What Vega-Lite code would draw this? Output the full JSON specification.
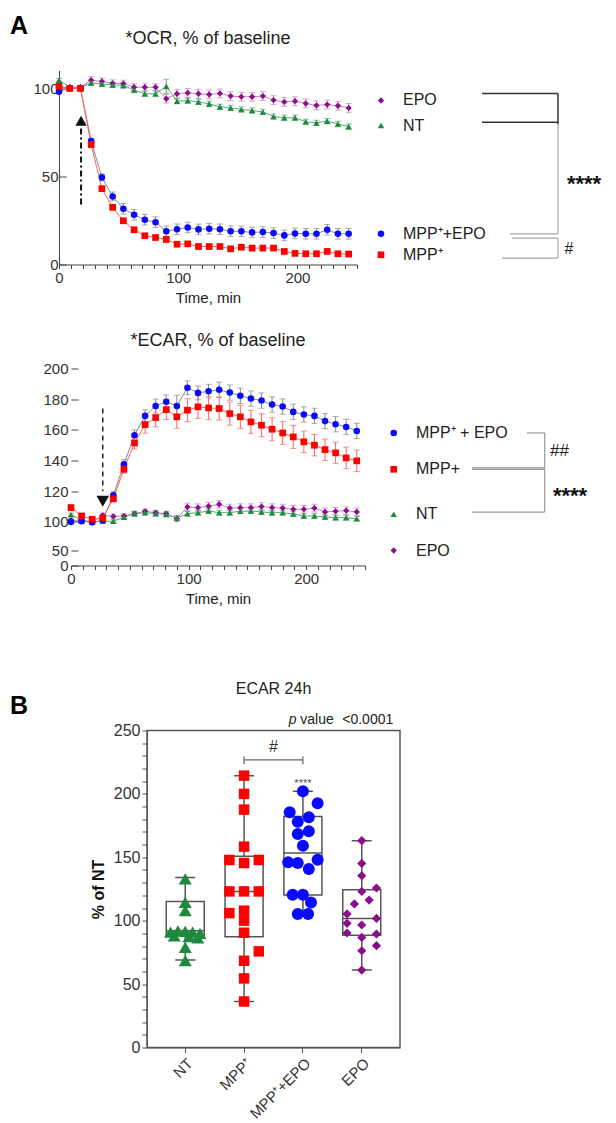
{
"$schema": "https://vega.github.io/schema/vega-lite/v6.json",
"background": "white",
"padding": {"left": 10, "top": 13.5, "right": 0, "bottom": 0},
"config": {
  "font": "Liberation Sans",
  "view": {"stroke": null},
  "axis": {"labelFont": "Liberation Sans", "labelFontSize": 15, "labelColor": "#333", "labelOverlap": false, "titleFont": "Liberation Sans", "titleFontSize": 15, "titleFontWeight": "normal", "titleColor": "#222", "domainColor": "#444", "tickColor": "#444", "grid": false},
  "title": {"font": "Liberation Sans", "fontWeight": "normal", "color": "#222", "baseline": "alphabetic"}
},
"datasets": {
  "ocr": [
    {"t":0,"g":"EPO","v":100.5,"e":1},{"t":9,"g":"EPO","v":100.5,"e":1},{"t":18,"g":"EPO","v":100.5,"e":1},{"t":27,"g":"EPO","v":104.5,"e":2},{"t":36,"g":"EPO","v":103.8,"e":2},{"t":45,"g":"EPO","v":102.7,"e":2},{"t":54,"g":"EPO","v":102.5,"e":2},{"t":63,"g":"EPO","v":100.5,"e":2},{"t":72,"g":"EPO","v":100.5,"e":2},{"t":81,"g":"EPO","v":100.5,"e":2},{"t":90,"g":"EPO","v":94,"e":2.5},{"t":99,"g":"EPO","v":96.8,"e":2.5},{"t":108,"g":"EPO","v":97.3,"e":2.5},{"t":117,"g":"EPO","v":96.8,"e":2.5},{"t":126,"g":"EPO","v":96.4,"e":2.5},{"t":135,"g":"EPO","v":97,"e":2.5},{"t":144,"g":"EPO","v":95.5,"e":2.5},{"t":153,"g":"EPO","v":95.1,"e":2.5},{"t":162,"g":"EPO","v":95.1,"e":2.5},{"t":171,"g":"EPO","v":95.5,"e":2.5},{"t":180,"g":"EPO","v":93.2,"e":2.5},{"t":189,"g":"EPO","v":92.2,"e":2.5},{"t":198,"g":"EPO","v":92.6,"e":2.5},{"t":207,"g":"EPO","v":91.3,"e":2.5},{"t":216,"g":"EPO","v":90.2,"e":2.5},{"t":225,"g":"EPO","v":90.7,"e":2.5},{"t":234,"g":"EPO","v":90,"e":2.5},{"t":243,"g":"EPO","v":88.8,"e":2.5},
    {"t":0,"g":"NT","v":104.5,"e":1},{"t":9,"g":"NT","v":100.5,"e":1},{"t":18,"g":"NT","v":100.5,"e":1},{"t":27,"g":"NT","v":103,"e":1.5},{"t":36,"g":"NT","v":102.4,"e":1.5},{"t":45,"g":"NT","v":101.8,"e":1.5},{"t":54,"g":"NT","v":101.5,"e":1.5},{"t":63,"g":"NT","v":98.9,"e":1.5},{"t":72,"g":"NT","v":96.8,"e":1.5},{"t":81,"g":"NT","v":96.8,"e":1.5},{"t":90,"g":"NT","v":101,"e":4},{"t":99,"g":"NT","v":92.6,"e":1.5},{"t":108,"g":"NT","v":92.9,"e":1.5},{"t":117,"g":"NT","v":92.2,"e":1.5},{"t":126,"g":"NT","v":91.1,"e":1.5},{"t":135,"g":"NT","v":89.4,"e":1.5},{"t":144,"g":"NT","v":88.8,"e":1.5},{"t":153,"g":"NT","v":87.9,"e":1.5},{"t":162,"g":"NT","v":87.3,"e":1.5},{"t":171,"g":"NT","v":86.5,"e":1.5},{"t":180,"g":"NT","v":83.9,"e":1.5},{"t":189,"g":"NT","v":83.2,"e":1.5},{"t":198,"g":"NT","v":83.2,"e":1.5},{"t":207,"g":"NT","v":80.9,"e":1.5},{"t":216,"g":"NT","v":80.3,"e":1.5},{"t":225,"g":"NT","v":81.3,"e":1.5},{"t":234,"g":"NT","v":79.7,"e":1.5},{"t":243,"g":"NT","v":78.2,"e":1.5},
    {"t":0,"g":"MPP⁺+EPO","v":98,"e":1},{"t":9,"g":"MPP⁺+EPO","v":100,"e":1},{"t":18,"g":"MPP⁺+EPO","v":100,"e":1},{"t":27,"g":"MPP⁺+EPO","v":70,"e":1.5},{"t":36,"g":"MPP⁺+EPO","v":49.4,"e":2},{"t":45,"g":"MPP⁺+EPO","v":38.6,"e":2.5},{"t":54,"g":"MPP⁺+EPO","v":31.6,"e":3},{"t":63,"g":"MPP⁺+EPO","v":28.2,"e":3},{"t":72,"g":"MPP⁺+EPO","v":25.4,"e":3},{"t":81,"g":"MPP⁺+EPO","v":24,"e":3},{"t":90,"g":"MPP⁺+EPO","v":18.8,"e":3},{"t":99,"g":"MPP⁺+EPO","v":20,"e":3},{"t":108,"g":"MPP⁺+EPO","v":21,"e":3},{"t":117,"g":"MPP⁺+EPO","v":19.9,"e":3},{"t":126,"g":"MPP⁺+EPO","v":20.3,"e":3},{"t":135,"g":"MPP⁺+EPO","v":20,"e":3},{"t":144,"g":"MPP⁺+EPO","v":18.9,"e":3},{"t":153,"g":"MPP⁺+EPO","v":18.8,"e":3},{"t":162,"g":"MPP⁺+EPO","v":18.2,"e":3},{"t":171,"g":"MPP⁺+EPO","v":18.4,"e":3},{"t":180,"g":"MPP⁺+EPO","v":17.8,"e":3},{"t":189,"g":"MPP⁺+EPO","v":16.5,"e":3},{"t":198,"g":"MPP⁺+EPO","v":17.6,"e":3},{"t":207,"g":"MPP⁺+EPO","v":17.4,"e":3},{"t":216,"g":"MPP⁺+EPO","v":17.4,"e":3},{"t":225,"g":"MPP⁺+EPO","v":19.7,"e":3},{"t":234,"g":"MPP⁺+EPO","v":17.4,"e":3},{"t":243,"g":"MPP⁺+EPO","v":17.4,"e":3},
    {"t":0,"g":"MPP⁺","v":101,"e":1},{"t":9,"g":"MPP⁺","v":99.8,"e":1},{"t":18,"g":"MPP⁺","v":99.8,"e":1},{"t":27,"g":"MPP⁺","v":68,"e":1.2},{"t":36,"g":"MPP⁺","v":43,"e":1.2},{"t":45,"g":"MPP⁺","v":32.4,"e":1.2},{"t":54,"g":"MPP⁺","v":24.8,"e":1.2},{"t":63,"g":"MPP⁺","v":19.7,"e":1.2},{"t":72,"g":"MPP⁺","v":16.3,"e":1.2},{"t":81,"g":"MPP⁺","v":15.3,"e":1.2},{"t":90,"g":"MPP⁺","v":14.2,"e":1.2},{"t":99,"g":"MPP⁺","v":11.5,"e":1.2},{"t":108,"g":"MPP⁺","v":11.7,"e":1.2},{"t":117,"g":"MPP⁺","v":10.2,"e":1.2},{"t":126,"g":"MPP⁺","v":10.2,"e":1},{"t":135,"g":"MPP⁺","v":10.2,"e":1},{"t":144,"g":"MPP⁺","v":8.9,"e":1},{"t":153,"g":"MPP⁺","v":9.8,"e":1},{"t":162,"g":"MPP⁺","v":9.3,"e":1},{"t":171,"g":"MPP⁺","v":9.3,"e":1},{"t":180,"g":"MPP⁺","v":9.3,"e":1},{"t":189,"g":"MPP⁺","v":7.4,"e":1},{"t":198,"g":"MPP⁺","v":6.3,"e":1},{"t":207,"g":"MPP⁺","v":6.1,"e":1},{"t":216,"g":"MPP⁺","v":6.1,"e":1},{"t":225,"g":"MPP⁺","v":7.4,"e":1},{"t":234,"g":"MPP⁺","v":6.1,"e":1},{"t":243,"g":"MPP⁺","v":5.9,"e":1}
  ],
  "ecar": [
    {"t":0,"g":"EPO","v":101,"e":1},{"t":9,"g":"EPO","v":101,"e":1},{"t":18,"g":"EPO","v":100,"e":1},{"t":27,"g":"EPO","v":104.3,"e":1.5},{"t":36,"g":"EPO","v":103.6,"e":1.5},{"t":45,"g":"EPO","v":103.8,"e":1.5},{"t":54,"g":"EPO","v":105.4,"e":1.5},{"t":63,"g":"EPO","v":106.9,"e":1.5},{"t":72,"g":"EPO","v":106,"e":1.5},{"t":81,"g":"EPO","v":105.4,"e":1.5},{"t":90,"g":"EPO","v":102.1,"e":2},{"t":99,"g":"EPO","v":109.7,"e":2.5},{"t":108,"g":"EPO","v":109.3,"e":2.5},{"t":117,"g":"EPO","v":110.2,"e":2.5},{"t":126,"g":"EPO","v":111.5,"e":2.5},{"t":135,"g":"EPO","v":109,"e":2.5},{"t":144,"g":"EPO","v":109.3,"e":2.5},{"t":153,"g":"EPO","v":109.3,"e":2.5},{"t":162,"g":"EPO","v":110,"e":2.5},{"t":171,"g":"EPO","v":109.3,"e":2.5},{"t":180,"g":"EPO","v":109,"e":2.5},{"t":189,"g":"EPO","v":108.2,"e":2.5},{"t":198,"g":"EPO","v":108.2,"e":2.5},{"t":207,"g":"EPO","v":109,"e":2.5},{"t":216,"g":"EPO","v":106.5,"e":2.5},{"t":225,"g":"EPO","v":106.9,"e":2.5},{"t":234,"g":"EPO","v":107.3,"e":2.5},{"t":243,"g":"EPO","v":106.5,"e":2.5},
    {"t":0,"g":"NT","v":104.7,"e":1},{"t":9,"g":"NT","v":101,"e":1},{"t":18,"g":"NT","v":100,"e":1},{"t":27,"g":"NT","v":100.4,"e":1},{"t":36,"g":"NT","v":100.4,"e":1},{"t":45,"g":"NT","v":103,"e":1.5},{"t":54,"g":"NT","v":105.4,"e":1.5},{"t":63,"g":"NT","v":106,"e":1.5},{"t":72,"g":"NT","v":105.4,"e":1.5},{"t":81,"g":"NT","v":104.9,"e":1.5},{"t":90,"g":"NT","v":102.5,"e":1.5},{"t":99,"g":"NT","v":105.4,"e":1.5},{"t":108,"g":"NT","v":106,"e":1.5},{"t":117,"g":"NT","v":107.1,"e":1.5},{"t":126,"g":"NT","v":106,"e":1.5},{"t":135,"g":"NT","v":106,"e":1.5},{"t":144,"g":"NT","v":107,"e":1.5},{"t":153,"g":"NT","v":107.1,"e":1.5},{"t":162,"g":"NT","v":106.5,"e":1.5},{"t":171,"g":"NT","v":106,"e":1.5},{"t":180,"g":"NT","v":106,"e":1.5},{"t":189,"g":"NT","v":105.2,"e":1.5},{"t":198,"g":"NT","v":103.9,"e":1.5},{"t":207,"g":"NT","v":103.9,"e":1.5},{"t":216,"g":"NT","v":103.2,"e":1.5},{"t":225,"g":"NT","v":102.8,"e":1.5},{"t":234,"g":"NT","v":102.8,"e":1.5},{"t":243,"g":"NT","v":102.1,"e":1.5},
    {"t":0,"g":"MPP⁺+EPO","v":100,"e":1},{"t":9,"g":"MPP⁺+EPO","v":100.4,"e":1},{"t":18,"g":"MPP⁺+EPO","v":99.7,"e":1},{"t":27,"g":"MPP⁺+EPO","v":101,"e":1.5},{"t":36,"g":"MPP⁺+EPO","v":117.4,"e":2.5},{"t":45,"g":"MPP⁺+EPO","v":137.6,"e":3},{"t":54,"g":"MPP⁺+EPO","v":156.5,"e":3.5},{"t":63,"g":"MPP⁺+EPO","v":169.1,"e":4},{"t":72,"g":"MPP⁺+EPO","v":175.6,"e":4.5},{"t":81,"g":"MPP⁺+EPO","v":178.3,"e":4.5},{"t":90,"g":"MPP⁺+EPO","v":175.6,"e":7},{"t":99,"g":"MPP⁺+EPO","v":187.4,"e":4.5},{"t":108,"g":"MPP⁺+EPO","v":184.1,"e":4.5},{"t":117,"g":"MPP⁺+EPO","v":185.2,"e":4.5},{"t":126,"g":"MPP⁺+EPO","v":186.1,"e":5},{"t":135,"g":"MPP⁺+EPO","v":184.3,"e":5},{"t":144,"g":"MPP⁺+EPO","v":182.2,"e":5},{"t":153,"g":"MPP⁺+EPO","v":180.4,"e":5},{"t":162,"g":"MPP⁺+EPO","v":179.1,"e":5},{"t":171,"g":"MPP⁺+EPO","v":176.5,"e":5},{"t":180,"g":"MPP⁺+EPO","v":175.2,"e":5},{"t":189,"g":"MPP⁺+EPO","v":171.7,"e":5},{"t":198,"g":"MPP⁺+EPO","v":170,"e":5},{"t":207,"g":"MPP⁺+EPO","v":169.1,"e":5},{"t":216,"g":"MPP⁺+EPO","v":165.7,"e":5},{"t":225,"g":"MPP⁺+EPO","v":163.7,"e":5},{"t":234,"g":"MPP⁺+EPO","v":161.9,"e":5},{"t":243,"g":"MPP⁺+EPO","v":159.3,"e":5},
    {"t":0,"g":"MPP⁺","v":109.3,"e":2},{"t":9,"g":"MPP⁺","v":103.9,"e":1.5},{"t":18,"g":"MPP⁺","v":101.7,"e":1.5},{"t":27,"g":"MPP⁺","v":102.5,"e":1.5},{"t":36,"g":"MPP⁺","v":115.1,"e":2},{"t":45,"g":"MPP⁺","v":134.3,"e":2.5},{"t":54,"g":"MPP⁺","v":151.5,"e":4},{"t":63,"g":"MPP⁺","v":163.4,"e":5.5},{"t":72,"g":"MPP⁺","v":168,"e":6},{"t":81,"g":"MPP⁺","v":173.2,"e":6.5},{"t":90,"g":"MPP⁺","v":168.5,"e":7.5},{"t":99,"g":"MPP⁺","v":172.8,"e":7.5},{"t":108,"g":"MPP⁺","v":175,"e":7.5},{"t":117,"g":"MPP⁺","v":174.3,"e":7.5},{"t":126,"g":"MPP⁺","v":173.9,"e":7.5},{"t":135,"g":"MPP⁺","v":170.6,"e":7.5},{"t":144,"g":"MPP⁺","v":168.5,"e":7.5},{"t":153,"g":"MPP⁺","v":165.2,"e":7.5},{"t":162,"g":"MPP⁺","v":163,"e":7.5},{"t":171,"g":"MPP⁺","v":160.4,"e":7.5},{"t":180,"g":"MPP⁺","v":158,"e":7.5},{"t":189,"g":"MPP⁺","v":155.4,"e":7.5},{"t":198,"g":"MPP⁺","v":152.2,"e":7},{"t":207,"g":"MPP⁺","v":150,"e":7},{"t":216,"g":"MPP⁺","v":147.1,"e":7},{"t":225,"g":"MPP⁺","v":145,"e":7},{"t":234,"g":"MPP⁺","v":141.7,"e":7},{"t":243,"g":"MPP⁺","v":139.8,"e":7}
  ],
  "arrO": [{"t":18.5,"a":34,"b":79,"h":81.5}],
  "arrE": [{"t":27,"a":174,"b":120,"h":113.5}],
  "pts": [
    {"g":"NT","v":133,"c":0},{"g":"NT","v":114.5,"c":0},{"g":"NT","v":108,"c":0},{"g":"NT","v":91,"c":-2},{"g":"NT","v":92,"c":-1},{"g":"NT","v":91.5,"c":0},{"g":"NT","v":91,"c":1},{"g":"NT","v":90,"c":2},{"g":"NT","v":88,"c":-1.5},{"g":"NT","v":87.5,"c":0.5},{"g":"NT","v":86.5,"c":1.7},{"g":"NT","v":79,"c":0},{"g":"NT","v":68.5,"c":0},
    {"g":"MPP⁺","v":214.4,"c":0},{"g":"MPP⁺","v":200,"c":0},{"g":"MPP⁺","v":187.6,"c":0},{"g":"MPP⁺","v":158.4,"c":0},{"g":"MPP⁺","v":147.9,"c":-2},{"g":"MPP⁺","v":145.5,"c":0},{"g":"MPP⁺","v":147.9,"c":2},{"g":"MPP⁺","v":123.1,"c":-2},{"g":"MPP⁺","v":123.1,"c":0},{"g":"MPP⁺","v":123.1,"c":2},{"g":"MPP⁺","v":106,"c":-2},{"g":"MPP⁺","v":107.9,"c":0},{"g":"MPP⁺","v":100,"c":0},{"g":"MPP⁺","v":90.5,"c":0},{"g":"MPP⁺","v":75.8,"c":2},{"g":"MPP⁺","v":68.4,"c":0},{"g":"MPP⁺","v":54.5,"c":0},{"g":"MPP⁺","v":36.3,"c":0},
    {"g":"MPP⁺+EPO","v":202,"c":0},{"g":"MPP⁺+EPO","v":192.6,"c":2},{"g":"MPP⁺+EPO","v":185.5,"c":-1.8},{"g":"MPP⁺+EPO","v":181.5,"c":0.8},{"g":"MPP⁺+EPO","v":178.1,"c":-0.7},{"g":"MPP⁺+EPO","v":170.5,"c":0.8},{"g":"MPP⁺+EPO","v":168.4,"c":-0.7},{"g":"MPP⁺+EPO","v":159.2,"c":0},{"g":"MPP⁺+EPO","v":148.1,"c":2},{"g":"MPP⁺+EPO","v":146,"c":-2},{"g":"MPP⁺+EPO","v":145.5,"c":-0.7},{"g":"MPP⁺+EPO","v":140.8,"c":0.8},{"g":"MPP⁺+EPO","v":120.5,"c":-1.4},{"g":"MPP⁺+EPO","v":120.5,"c":0},{"g":"MPP⁺+EPO","v":114.4,"c":1.1},{"g":"MPP⁺+EPO","v":105.3,"c":-0.7},{"g":"MPP⁺+EPO","v":105.3,"c":0.7},
    {"g":"EPO","v":163.1,"c":0},{"g":"EPO","v":145.2,"c":0},{"g":"EPO","v":135.5,"c":0},{"g":"EPO","v":125.8,"c":2},{"g":"EPO","v":123.1,"c":0},{"g":"EPO","v":116.3,"c":1},{"g":"EPO","v":113.2,"c":-1},{"g":"EPO","v":105.3,"c":-2},{"g":"EPO","v":101.8,"c":2},{"g":"EPO","v":97.9,"c":-2},{"g":"EPO","v":96.6,"c":0},{"g":"EPO","v":90.3,"c":-2},{"g":"EPO","v":89.5,"c":2},{"g":"EPO","v":86.8,"c":0},{"g":"EPO","v":80.3,"c":2},{"g":"EPO","v":76.3,"c":0},{"g":"EPO","v":61.1,"c":0}
  ],
  "stats": [
    {"g":"NT","lo":69,"q1":88.2,"md":92.1,"q3":115.2,"hi":134},
    {"g":"MPP⁺","lo":36.3,"q1":87.4,"md":123.1,"q3":150.8,"hi":214.4},
    {"g":"MPP⁺+EPO","lo":105.3,"q1":120.3,"md":153.4,"q3":182.1,"hi":202},
    {"g":"EPO","lo":61.1,"q1":88.5,"md":101.8,"q3":124.5,"hi":163.1}
  ],
  "ocrLeg": [
    {"g":"EPO","lab":"EPO","y":93},{"g":"NT","lab":"NT","y":78.8},{"g":"MPP⁺+EPO","lab":"MPP⁺+EPO","y":17.4},{"g":"MPP⁺","lab":"MPP⁺","y":5.5}
  ],
  "ecarLeg": [
    {"g":"MPP⁺+EPO","lab":"MPP⁺ + EPO","y":158},{"g":"MPP⁺","lab":"MPP+","y":134.3},{"g":"NT","lab":"NT","y":105},{"g":"EPO","lab":"EPO","y":50}
  ],
  "ocrBrDark": [
    {"x1":124,"x2":200,"y1":97,"y2":97},{"x1":124,"x2":200,"y1":80.7,"y2":80.7},{"x1":200,"x2":200,"y1":97,"y2":79.5}
  ],
  "ocrBrGray": [
    {"x1":200,"x2":200,"y1":79.5,"y2":17.4},{"x1":152,"x2":200,"y1":17.4,"y2":17.4},{"x1":154,"x2":200,"y1":14.9,"y2":14.9},{"x1":200,"x2":200,"y1":14.9,"y2":3.6},{"x1":144,"x2":200,"y1":3.6,"y2":3.6}
  ],
  "ecarBr": [
    {"x1":161,"x2":178.7,"y1":158,"y2":158},{"x1":178.7,"x2":178.7,"y1":158,"y2":134.8},{"x1":106,"x2":178.7,"y1":135.2,"y2":135.2},{"x1":106,"x2":178.7,"y1":134.3,"y2":134.3},{"x1":178.7,"x2":178.7,"y1":134.3,"y2":106.4},{"x1":106,"x2":178.7,"y1":106.4,"y2":106.4}
  ]
},
"spacing": 0,
"vconcat": [
  {"spacing": 0, "hconcat": [
    {"width": 22, "height": 10, "data": {"values": [{}]}, "mark": {"type": "text", "text": " "},
     "title": {"text": "A", "anchor": "start", "frame": "group", "fontSize": 25, "fontWeight": "bold", "color": "#000", "offset": 30.4}},
    {"width": 298, "height": 194,
     "title": {"text": "*OCR, % of baseline", "fontSize": 18, "frame": "group", "anchor": "middle", "offset": 22.4},
     "data": {"name": "ocr"},
     "encoding": {
       "x": {"field": "t", "type": "quantitative", "scale": {"domain": [0, 250], "nice": false},
             "axis": {"values": [0,10,20,30,40,50,60,70,80,90,100,110,120,130,140,150,160,170,180,190,200,210,220,230,240,250], "labelExpr": "datum.value % 100 === 0 ? datum.label : ''", "labelFlush": false, "tickSize": 4, "labelPadding": 2, "title": "Time, min", "titlePadding": 5}},
       "y": {"field": "v", "type": "quantitative", "scale": {"domain": [0, 110], "nice": false, "zero": false},
             "axis": {"values": [0, 50, 100], "tickSize": -7, "labelPadding": 8, "title": null}}
     },
     "layer": [
       {"mark": {"type": "line", "strokeWidth": 1},
        "encoding": {"color": {"field": "g", "type": "nominal", "scale": {"domain": ["EPO","NT","MPP⁺+EPO","MPP⁺"], "range": ["#c77fc7","#58a872","#8a8a8a","#ff6060"]}, "legend": null}}},
       {"mark": {"type": "errorbar", "ticks": true, "size": 6, "thickness": 1},
        "encoding": {"yError": {"field": "e"}, "color": {"field": "g", "type": "nominal", "scale": {"domain": ["EPO","NT","MPP⁺+EPO","MPP⁺"], "range": ["#c77fc7","#58a872","#8a8a8a","#ff6060"]}, "legend": null}}},
       {"mark": {"type": "point", "filled": true, "opacity": 1, "strokeWidth": 0},
        "encoding": {
          "fill": {"field": "g", "type": "nominal", "scale": {"domain": ["EPO","NT","MPP⁺+EPO","MPP⁺"], "range": ["#8b0f8b","#1d8a3e","#0a0aff","#ff0000"]}, "legend": null},
          "shape": {"field": "g", "type": "nominal", "scale": {"domain": ["EPO","NT","MPP⁺+EPO","MPP⁺"], "range": ["diamond","triangle-up","circle","square"]}, "legend": null},
          "size": {"field": "g", "type": "nominal", "scale": {"domain": ["EPO","NT","MPP⁺+EPO","MPP⁺"], "range": [40,45,64,60]}, "legend": null}}},
       {"data": {"name": "arrO"}, "mark": {"type": "rule", "strokeDash": [6,3,2,3], "strokeWidth": 2, "stroke": "#111", "opacity": 1},
        "encoding": {"x": {"field": "t", "type": "quantitative"},
                     "y": {"field": "a", "type": "quantitative"},
                     "y2": {"field": "b"}}},
       {"data": {"name": "arrO"}, "mark": {"type": "point", "shape": "triangle-up", "filled": true, "fill": "#111", "size": 130, "opacity": 1},
        "encoding": {"x": {"field": "t", "type": "quantitative"},
                     "y": {"field": "h", "type": "quantitative"}}}
     ]},
    {"width": 250, "height": 260.3,
     "layer": [
       {"data": {"name": "ocrBrDark"}, "mark": {"type": "rule", "color": "#333", "strokeWidth": 1.5},
        "encoding": {"x": {"field": "x1", "type": "quantitative", "scale": {"domain": [0, 250], "range": [0, 250]}, "axis": null}, "x2": {"field": "x2"},
                     "y": {"field": "y1", "type": "quantitative", "scale": {"domain": [0, 110], "range": [194, 0], "nice": false, "zero": false}, "axis": null}, "y2": {"field": "y2"}}},
       {"data": {"name": "ocrBrGray"}, "mark": {"type": "rule", "color": "#a8a8a8", "strokeWidth": 1.2},
        "encoding": {"x": {"field": "x1", "type": "quantitative", "scale": {"domain": [0, 250], "range": [0, 250]}, "axis": null}, "x2": {"field": "x2"},
                     "y": {"field": "y1", "type": "quantitative", "scale": {"domain": [0, 110], "range": [194, 0], "nice": false, "zero": false}, "axis": null}, "y2": {"field": "y2"}}},
       {"data": {"name": "ocrLeg"}, "mark": {"type": "point", "filled": true, "opacity": 1, "strokeWidth": 0},
        "encoding": {"x": {"datum": 23, "type": "quantitative", "scale": {"domain": [0, 250], "range": [0, 250]}, "axis": null},
                     "y": {"field": "y", "type": "quantitative", "scale": {"domain": [0, 110], "range": [194, 0], "nice": false, "zero": false}, "axis": null},
                     "fill": {"field": "g", "type": "nominal", "scale": {"domain": ["EPO","NT","MPP⁺+EPO","MPP⁺"], "range": ["#8b0f8b","#1d8a3e","#0a0aff","#ff0000"]}, "legend": null},
                     "shape": {"field": "g", "type": "nominal", "scale": {"domain": ["EPO","NT","MPP⁺+EPO","MPP⁺"], "range": ["diamond","triangle-up","circle","square"]}, "legend": null},
                     "size": {"field": "g", "type": "nominal", "scale": {"domain": ["EPO","NT","MPP⁺+EPO","MPP⁺"], "range": [36,36,49,49]}, "legend": null}}},
       {"data": {"name": "ocrLeg"}, "mark": {"type": "text", "align": "left", "baseline": "middle", "fontSize": 16, "color": "#222"},
        "encoding": {"x": {"datum": 45, "type": "quantitative", "scale": {"domain": [0, 250], "range": [0, 250]}, "axis": null},
                     "y": {"field": "y", "type": "quantitative", "scale": {"domain": [0, 110], "range": [194, 0], "nice": false, "zero": false}, "axis": null},
                     "text": {"field": "lab"}}},
       {"data": {"values": [{"s": "****"}]}, "mark": {"type": "text", "align": "center", "baseline": "alphabetic", "fontSize": 22, "fontWeight": "bold", "color": "#111"},
        "encoding": {"x": {"datum": 226, "type": "quantitative", "scale": {"domain": [0, 250], "range": [0, 250]}, "axis": null},
                     "y": {"datum": 41.8, "type": "quantitative", "scale": {"domain": [0, 110], "range": [194, 0], "nice": false, "zero": false}, "axis": null},
                     "text": {"field": "s"}}},
       {"data": {"values": [{"s": "#"}]}, "mark": {"type": "text", "align": "center", "baseline": "alphabetic", "fontSize": 16, "color": "#222"},
        "encoding": {"x": {"datum": 211, "type": "quantitative", "scale": {"domain": [0, 250], "range": [0, 250]}, "axis": null},
                     "y": {"datum": 5.8, "type": "quantitative", "scale": {"domain": [0, 110], "range": [194, 0], "nice": false, "zero": false}, "axis": null},
                     "text": {"field": "s"}}}
     ]}
  ]},
  {"spacing": 0, "hconcat": [
    {"width": 32, "height": 10, "data": {"values": [{}]}, "mark": {"type": "text", "text": " "}},
    {"width": 294, "height": 197,
     "title": {"text": "*ECAR, % of baseline", "fontSize": 18, "frame": "group", "anchor": "middle", "offset": 11.4},
     "data": {"name": "ecar"},
     "encoding": {
       "x": {"field": "t", "type": "quantitative", "scale": {"domain": [0, 250], "nice": false},
             "axis": {"values": [0,10,20,30,40,50,60,70,80,90,100,110,120,130,140,150,160,170,180,190,200,210,220,230,240,250], "labelExpr": "datum.value % 100 === 0 ? datum.label : ''", "labelFlush": false, "tickSize": 4, "labelPadding": 2, "title": "Time, min", "titlePadding": 5}},
       "y": {"field": "v", "type": "quantitative", "scale": {"domain": [0, 90, 97, 200], "range": [197, 170, 158, 0], "nice": false, "zero": false},
             "axis": {"values": [0, 50, 100, 120, 140, 160, 180, 200], "domain": false, "tickSize": -7, "labelPadding": 10, "title": null}}
     },
     "layer": [
       {"data": {"values": [{}]}, "mark": {"type": "rule", "color": "#444", "strokeWidth": 1},
        "encoding": {"x": {"datum": 0, "type": "quantitative", "scale": {"domain": [0, 250], "nice": false}},
                     "y": {"datum": 0, "type": "quantitative", "scale": {"domain": [0, 90, 97, 200], "range": [197, 170, 158, 0], "nice": false, "zero": false}},
                     "y2": {"datum": 90}}},
       {"data": {"values": [{}]}, "mark": {"type": "rule", "color": "#444", "strokeWidth": 1},
        "encoding": {"x": {"datum": 0, "type": "quantitative", "scale": {"domain": [0, 250], "nice": false}},
                     "y": {"datum": 97, "type": "quantitative", "scale": {"domain": [0, 90, 97, 200], "range": [197, 170, 158, 0], "nice": false, "zero": false}},
                     "y2": {"datum": 200}}},
       {"mark": {"type": "line", "strokeWidth": 1},
        "encoding": {"color": {"field": "g", "type": "nominal", "scale": {"domain": ["EPO","NT","MPP⁺+EPO","MPP⁺"], "range": ["#c77fc7","#58a872","#8a8a8a","#ff6060"]}, "legend": null}}},
       {"mark": {"type": "errorbar", "ticks": true, "size": 6, "thickness": 1},
        "encoding": {"yError": {"field": "e"}, "color": {"field": "g", "type": "nominal", "scale": {"domain": ["EPO","NT","MPP⁺+EPO","MPP⁺"], "range": ["#c77fc7","#58a872","#8a8a8a","#ff6060"]}, "legend": null}}},
       {"mark": {"type": "point", "filled": true, "opacity": 1, "strokeWidth": 0},
        "encoding": {
          "fill": {"field": "g", "type": "nominal", "scale": {"domain": ["EPO","NT","MPP⁺+EPO","MPP⁺"], "range": ["#8b0f8b","#1d8a3e","#0a0aff","#ff0000"]}, "legend": null},
          "shape": {"field": "g", "type": "nominal", "scale": {"domain": ["EPO","NT","MPP⁺+EPO","MPP⁺"], "range": ["diamond","triangle-up","circle","square"]}, "legend": null},
          "size": {"field": "g", "type": "nominal", "scale": {"domain": ["EPO","NT","MPP⁺+EPO","MPP⁺"], "range": [40,45,64,60]}, "legend": null}}},
       {"data": {"name": "arrE"}, "mark": {"type": "rule", "strokeDash": [5,4], "strokeWidth": 1.5, "stroke": "#222", "opacity": 1},
        "encoding": {"x": {"field": "t", "type": "quantitative"},
                     "y": {"field": "a", "type": "quantitative"},
                     "y2": {"field": "b"}}},
       {"data": {"name": "arrE"}, "mark": {"type": "point", "shape": "triangle-down", "filled": true, "fill": "#111", "size": 160, "opacity": 1},
        "encoding": {"x": {"field": "t", "type": "quantitative"},
                     "y": {"field": "h", "type": "quantitative"}}}
     ]},
    {"width": 245, "height": 311,
     "layer": [
       {"data": {"name": "ecarBr"}, "mark": {"type": "rule", "color": "#999", "strokeWidth": 1.2},
        "encoding": {"x": {"field": "x1", "type": "quantitative", "scale": {"domain": [0, 245], "range": [0, 245]}, "axis": null}, "x2": {"field": "x2"},
                     "y": {"field": "y1", "type": "quantitative", "scale": {"domain": [0, 90, 97, 200], "range": [197, 170, 158, 0], "nice": false, "zero": false}, "axis": null}, "y2": {"field": "y2"}}},
       {"data": {"name": "ecarLeg"}, "mark": {"type": "point", "filled": true, "opacity": 1, "strokeWidth": 0},
        "encoding": {"x": {"datum": 27.7, "type": "quantitative", "scale": {"domain": [0, 245], "range": [0, 245]}, "axis": null},
                     "y": {"field": "y", "type": "quantitative", "scale": {"domain": [0, 90, 97, 200], "range": [197, 170, 158, 0], "nice": false, "zero": false}, "axis": null},
                     "fill": {"field": "g", "type": "nominal", "scale": {"domain": ["EPO","NT","MPP⁺+EPO","MPP⁺"], "range": ["#8b0f8b","#1d8a3e","#0a0aff","#ff0000"]}, "legend": null},
                     "shape": {"field": "g", "type": "nominal", "scale": {"domain": ["EPO","NT","MPP⁺+EPO","MPP⁺"], "range": ["diamond","triangle-up","circle","square"]}, "legend": null},
                     "size": {"field": "g", "type": "nominal", "scale": {"domain": ["EPO","NT","MPP⁺+EPO","MPP⁺"], "range": [36,36,49,49]}, "legend": null}}},
       {"data": {"name": "ecarLeg"}, "mark": {"type": "text", "align": "left", "baseline": "middle", "fontSize": 16, "color": "#222"},
        "encoding": {"x": {"datum": 50, "type": "quantitative", "scale": {"domain": [0, 245], "range": [0, 245]}, "axis": null},
                     "y": {"field": "y", "type": "quantitative", "scale": {"domain": [0, 90, 97, 200], "range": [197, 170, 158, 0], "nice": false, "zero": false}, "axis": null},
                     "text": {"field": "lab"}}},
       {"data": {"values": [{"s": "##"}]}, "mark": {"type": "text", "align": "center", "baseline": "alphabetic", "fontSize": 17, "color": "#222"},
        "encoding": {"x": {"datum": 193.5, "type": "quantitative", "scale": {"domain": [0, 245], "range": [0, 245]}, "axis": null},
                     "y": {"datum": 142.8, "type": "quantitative", "scale": {"domain": [0, 90, 97, 200], "range": [197, 170, 158, 0], "nice": false, "zero": false}, "axis": null},
                     "text": {"field": "s"}}},
       {"data": {"values": [{"s": "****"}]}, "mark": {"type": "text", "align": "center", "baseline": "alphabetic", "fontSize": 22, "fontWeight": "bold", "color": "#111"},
        "encoding": {"x": {"datum": 204, "type": "quantitative", "scale": {"domain": [0, 245], "range": [0, 245]}, "axis": null},
                     "y": {"datum": 112.5, "type": "quantitative", "scale": {"domain": [0, 90, 97, 200], "range": [197, 170, 158, 0], "nice": false, "zero": false}, "axis": null},
                     "text": {"field": "s"}}}
     ]}
  ]},
  {"spacing": 0, "hconcat": [
    {"width": 79, "height": 10, "data": {"values": [{}]}, "mark": {"type": "text", "text": " "},
     "title": {"text": "B", "anchor": "start", "frame": "group", "fontSize": 25, "fontWeight": "bold", "color": "#000", "offset": 10.8}},
    {"width": 253, "height": 317,
     "view": {"stroke": "#555", "strokeWidth": 1.5},
     "title": {"text": "ECAR 24h", "fontSize": 16, "frame": "group", "anchor": "middle", "offset": 16},
     "encoding": {
       "x": {"field": "g", "type": "nominal", "scale": {"domain": ["NT","MPP⁺","MPP⁺+EPO","EPO"], "paddingInner": 0.5, "paddingOuter": 0.4},
             "axis": {"title": null, "labelAngle": -45, "labelAlign": "right", "labelBaseline": "top", "labelFontSize": 15, "tickSize": 5, "labelPadding": 3, "domainColor": "#555", "tickColor": "#555"}}
     },
     "layer": [
       {"data": {"name": "stats"}, "mark": {"type": "rule", "color": "#555", "strokeWidth": 1.5},
        "encoding": {"y": {"field": "lo", "type": "quantitative", "scale": {"domain": [0, 250], "nice": false},
                           "axis": {"title": "% of NT", "titleFontWeight": "bold", "titleFontSize": 16, "titleColor": "#111", "titlePadding": 7, "values": [0,10,20,30,40,50,60,70,80,90,100,110,120,130,140,150,160,170,180,190,200,210,220,230,240,250], "labelExpr": "datum.value % 50 === 0 ? datum.label : ''", "labelOverlap": false, "tickSize": 5, "labelFontSize": 16, "labelPadding": 2, "domainColor": "#555", "tickColor": "#555"}},
                     "y2": {"field": "hi"}}},
       {"data": {"name": "stats"}, "mark": {"type": "bar", "width": 38, "fill": "white", "stroke": "#555", "strokeWidth": 1.5},
        "encoding": {"y": {"field": "q1", "type": "quantitative", "scale": {"domain": [0, 250], "nice": false},
                           "axis": {"title": "% of NT", "titleFontWeight": "bold", "titleFontSize": 16, "titleColor": "#111", "titlePadding": 7, "values": [0,10,20,30,40,50,60,70,80,90,100,110,120,130,140,150,160,170,180,190,200,210,220,230,240,250], "labelExpr": "datum.value % 50 === 0 ? datum.label : ''", "labelOverlap": false, "tickSize": 5, "labelFontSize": 16, "labelPadding": 2, "domainColor": "#555", "tickColor": "#555"}},
                     "y2": {"field": "q3"}}},
       {"data": {"name": "stats"}, "mark": {"type": "bar", "width": 38, "fill": "#555", "stroke": "#555", "strokeWidth": 1.5},
        "encoding": {"y": {"field": "md", "type": "quantitative", "scale": {"domain": [0, 250], "nice": false},
                           "axis": {"title": "% of NT", "titleFontWeight": "bold", "titleFontSize": 16, "titleColor": "#111", "titlePadding": 7, "values": [0,10,20,30,40,50,60,70,80,90,100,110,120,130,140,150,160,170,180,190,200,210,220,230,240,250], "labelExpr": "datum.value % 50 === 0 ? datum.label : ''", "labelOverlap": false, "tickSize": 5, "labelFontSize": 16, "labelPadding": 2, "domainColor": "#555", "tickColor": "#555"}},
                     "y2": {"field": "md"}}},
       {"data": {"name": "stats"}, "mark": {"type": "bar", "width": 20, "fill": "#555", "stroke": "#555", "strokeWidth": 1.5},
        "encoding": {"y": {"field": "hi", "type": "quantitative", "scale": {"domain": [0, 250], "nice": false},
                           "axis": {"title": "% of NT", "titleFontWeight": "bold", "titleFontSize": 16, "titleColor": "#111", "titlePadding": 7, "values": [0,10,20,30,40,50,60,70,80,90,100,110,120,130,140,150,160,170,180,190,200,210,220,230,240,250], "labelExpr": "datum.value % 50 === 0 ? datum.label : ''", "labelOverlap": false, "tickSize": 5, "labelFontSize": 16, "labelPadding": 2, "domainColor": "#555", "tickColor": "#555"}},
                     "y2": {"field": "hi"}}},
       {"data": {"name": "stats"}, "mark": {"type": "bar", "width": 20, "fill": "#555", "stroke": "#555", "strokeWidth": 1.5},
        "encoding": {"y": {"field": "lo", "type": "quantitative", "scale": {"domain": [0, 250], "nice": false},
                           "axis": {"title": "% of NT", "titleFontWeight": "bold", "titleFontSize": 16, "titleColor": "#111", "titlePadding": 7, "values": [0,10,20,30,40,50,60,70,80,90,100,110,120,130,140,150,160,170,180,190,200,210,220,230,240,250], "labelExpr": "datum.value % 50 === 0 ? datum.label : ''", "labelOverlap": false, "tickSize": 5, "labelFontSize": 16, "labelPadding": 2, "domainColor": "#555", "tickColor": "#555"}},
                     "y2": {"field": "lo"}}},
       {"data": {"name": "pts"}, "transform": [{"filter": {"field": "g", "equal": "NT"}}],
        "mark": {"type": "point", "shape": "triangle-up", "filled": true, "fill": "#1d8a3e", "size": 170, "opacity": 1, "strokeWidth": 0},
        "encoding": {
          "y": {"field": "v", "type": "quantitative", "scale": {"domain": [0, 250], "nice": false},
                "axis": {"title": "% of NT", "titleFontWeight": "bold", "titleFontSize": 16, "titleColor": "#111", "titlePadding": 7, "values": [0,10,20,30,40,50,60,70,80,90,100,110,120,130,140,150,160,170,180,190,200,210,220,230,240,250], "labelExpr": "datum.value % 50 === 0 ? datum.label : ''", "labelOverlap": false, "tickSize": 5, "labelFontSize": 16, "labelPadding": 2, "domainColor": "#555", "tickColor": "#555"}},
          "xOffset": {"field": "c", "type": "quantitative", "scale": {"domain": [-2, 2]}}}},
       {"data": {"name": "pts"}, "transform": [{"filter": {"field": "g", "equal": "MPP⁺"}}],
        "mark": {"type": "point", "shape": "square", "filled": true, "fill": "#ff0000", "size": 110, "opacity": 1, "strokeWidth": 0},
        "encoding": {
          "y": {"field": "v", "type": "quantitative", "scale": {"domain": [0, 250], "nice": false},
                "axis": {"title": "% of NT", "titleFontWeight": "bold", "titleFontSize": 16, "titleColor": "#111", "titlePadding": 7, "values": [0,10,20,30,40,50,60,70,80,90,100,110,120,130,140,150,160,170,180,190,200,210,220,230,240,250], "labelExpr": "datum.value % 50 === 0 ? datum.label : ''", "labelOverlap": false, "tickSize": 5, "labelFontSize": 16, "labelPadding": 2, "domainColor": "#555", "tickColor": "#555"}},
          "xOffset": {"field": "c", "type": "quantitative", "scale": {"domain": [-2, 2]}}}},
       {"data": {"name": "pts"}, "transform": [{"filter": {"field": "g", "equal": "MPP⁺+EPO"}}],
        "mark": {"type": "point", "shape": "circle", "filled": true, "fill": "#0a0aff", "size": 144, "opacity": 1, "strokeWidth": 0},
        "encoding": {
          "y": {"field": "v", "type": "quantitative", "scale": {"domain": [0, 250], "nice": false},
                "axis": {"title": "% of NT", "titleFontWeight": "bold", "titleFontSize": 16, "titleColor": "#111", "titlePadding": 7, "values": [0,10,20,30,40,50,60,70,80,90,100,110,120,130,140,150,160,170,180,190,200,210,220,230,240,250], "labelExpr": "datum.value % 50 === 0 ? datum.label : ''", "labelOverlap": false, "tickSize": 5, "labelFontSize": 16, "labelPadding": 2, "domainColor": "#555", "tickColor": "#555"}},
          "xOffset": {"field": "c", "type": "quantitative", "scale": {"domain": [-2, 2]}}}},
       {"data": {"name": "pts"}, "transform": [{"filter": {"field": "g", "equal": "EPO"}}],
        "mark": {"type": "point", "shape": "diamond", "filled": true, "fill": "#8b0f8b", "size": 85, "opacity": 1, "strokeWidth": 0},
        "encoding": {
          "y": {"field": "v", "type": "quantitative", "scale": {"domain": [0, 250], "nice": false},
                "axis": {"title": "% of NT", "titleFontWeight": "bold", "titleFontSize": 16, "titleColor": "#111", "titlePadding": 7, "values": [0,10,20,30,40,50,60,70,80,90,100,110,120,130,140,150,160,170,180,190,200,210,220,230,240,250], "labelExpr": "datum.value % 50 === 0 ? datum.label : ''", "labelOverlap": false, "tickSize": 5, "labelFontSize": 16, "labelPadding": 2, "domainColor": "#555", "tickColor": "#555"}},
          "xOffset": {"field": "c", "type": "quantitative", "scale": {"domain": [-2, 2]}}}},
       {"data": {"values": [{}]}, "mark": {"type": "rule", "color": "#666", "strokeWidth": 1.2},
        "encoding": {"x": {"datum": "MPP⁺"}, "x2": {"datum": "MPP⁺+EPO"},
                     "y": {"datum": 226.8, "type": "quantitative", "scale": {"domain": [0, 250], "nice": false},
                           "axis": {"title": "% of NT", "titleFontWeight": "bold", "titleFontSize": 16, "titleColor": "#111", "titlePadding": 7, "values": [0,10,20,30,40,50,60,70,80,90,100,110,120,130,140,150,160,170,180,190,200,210,220,230,240,250], "labelExpr": "datum.value % 50 === 0 ? datum.label : ''", "labelOverlap": false, "tickSize": 5, "labelFontSize": 16, "labelPadding": 2, "domainColor": "#555", "tickColor": "#555"}}}},
       {"data": {"values": [{}]}, "mark": {"type": "rule", "color": "#666", "strokeWidth": 1.2},
        "encoding": {"x": {"datum": "MPP⁺"},
                     "y": {"datum": 223.3, "type": "quantitative", "scale": {"domain": [0, 250], "nice": false},
                           "axis": {"title": "% of NT", "titleFontWeight": "bold", "titleFontSize": 16, "titleColor": "#111", "titlePadding": 7, "values": [0,10,20,30,40,50,60,70,80,90,100,110,120,130,140,150,160,170,180,190,200,210,220,230,240,250], "labelExpr": "datum.value % 50 === 0 ? datum.label : ''", "labelOverlap": false, "tickSize": 5, "labelFontSize": 16, "labelPadding": 2, "domainColor": "#555", "tickColor": "#555"}}, "y2": {"datum": 229.5}}},
       {"data": {"values": [{}]}, "mark": {"type": "rule", "color": "#666", "strokeWidth": 1.2},
        "encoding": {"x": {"datum": "MPP⁺+EPO"},
                     "y": {"datum": 223.3, "type": "quantitative", "scale": {"domain": [0, 250], "nice": false},
                           "axis": {"title": "% of NT", "titleFontWeight": "bold", "titleFontSize": 16, "titleColor": "#111", "titlePadding": 7, "values": [0,10,20,30,40,50,60,70,80,90,100,110,120,130,140,150,160,170,180,190,200,210,220,230,240,250], "labelExpr": "datum.value % 50 === 0 ? datum.label : ''", "labelOverlap": false, "tickSize": 5, "labelFontSize": 16, "labelPadding": 2, "domainColor": "#555", "tickColor": "#555"}}, "y2": {"datum": 229.5}}},
       {"data": {"values": [{"s": "#"}]}, "mark": {"type": "text", "align": "center", "baseline": "alphabetic", "fontSize": 16, "color": "#333", "dx": 29.4},
        "encoding": {"x": {"datum": "MPP⁺"},
                     "y": {"datum": 232.7, "type": "quantitative", "scale": {"domain": [0, 250], "nice": false},
                           "axis": {"title": "% of NT", "titleFontWeight": "bold", "titleFontSize": 16, "titleColor": "#111", "titlePadding": 7, "values": [0,10,20,30,40,50,60,70,80,90,100,110,120,130,140,150,160,170,180,190,200,210,220,230,240,250], "labelExpr": "datum.value % 50 === 0 ? datum.label : ''", "labelOverlap": false, "tickSize": 5, "labelFontSize": 16, "labelPadding": 2, "domainColor": "#555", "tickColor": "#555"}}, "text": {"field": "s"}}},
       {"data": {"values": [{"s": "****"}]}, "mark": {"type": "text", "align": "center", "baseline": "alphabetic", "fontSize": 11, "color": "#555"},
        "encoding": {"x": {"datum": "MPP⁺+EPO"},
                     "y": {"datum": 205.4, "type": "quantitative", "scale": {"domain": [0, 250], "nice": false},
                           "axis": {"title": "% of NT", "titleFontWeight": "bold", "titleFontSize": 16, "titleColor": "#111", "titlePadding": 7, "values": [0,10,20,30,40,50,60,70,80,90,100,110,120,130,140,150,160,170,180,190,200,210,220,230,240,250], "labelExpr": "datum.value % 50 === 0 ? datum.label : ''", "labelOverlap": false, "tickSize": 5, "labelFontSize": 16, "labelPadding": 2, "domainColor": "#555", "tickColor": "#555"}}, "text": {"field": "s"}}},
       {"data": {"values": [{"s": "p"}]}, "mark": {"type": "text", "align": "left", "baseline": "alphabetic", "fontSize": 14, "fontStyle": "italic", "color": "#222", "dx": -73},
        "encoding": {"x": {"datum": "EPO"},
                     "y": {"datum": 255.2, "type": "quantitative", "scale": {"domain": [0, 250], "nice": false},
                           "axis": {"title": "% of NT", "titleFontWeight": "bold", "titleFontSize": 16, "titleColor": "#111", "titlePadding": 7, "values": [0,10,20,30,40,50,60,70,80,90,100,110,120,130,140,150,160,170,180,190,200,210,220,230,240,250], "labelExpr": "datum.value % 50 === 0 ? datum.label : ''", "labelOverlap": false, "tickSize": 5, "labelFontSize": 16, "labelPadding": 2, "domainColor": "#555", "tickColor": "#555"}}, "text": {"field": "s"}}},
       {"data": {"values": [{"s": "value"}]}, "mark": {"type": "text", "align": "left", "baseline": "alphabetic", "fontSize": 14, "color": "#222", "dx": -61.5},
        "encoding": {"x": {"datum": "EPO"},
                     "y": {"datum": 255.2, "type": "quantitative", "scale": {"domain": [0, 250], "nice": false},
                           "axis": {"title": "% of NT", "titleFontWeight": "bold", "titleFontSize": 16, "titleColor": "#111", "titlePadding": 7, "values": [0,10,20,30,40,50,60,70,80,90,100,110,120,130,140,150,160,170,180,190,200,210,220,230,240,250], "labelExpr": "datum.value % 50 === 0 ? datum.label : ''", "labelOverlap": false, "tickSize": 5, "labelFontSize": 16, "labelPadding": 2, "domainColor": "#555", "tickColor": "#555"}}, "text": {"field": "s"}}},
       {"data": {"values": [{"s": "<0.0001"}]}, "mark": {"type": "text", "align": "right", "baseline": "alphabetic", "fontSize": 14, "color": "#222", "dx": 31.5},
        "encoding": {"x": {"datum": "EPO"},
                     "y": {"datum": 255.2, "type": "quantitative", "scale": {"domain": [0, 250], "nice": false},
                           "axis": {"title": "% of NT", "titleFontWeight": "bold", "titleFontSize": 16, "titleColor": "#111", "titlePadding": 7, "values": [0,10,20,30,40,50,60,70,80,90,100,110,120,130,140,150,160,170,180,190,200,210,220,230,240,250], "labelExpr": "datum.value % 50 === 0 ? datum.label : ''", "labelOverlap": false, "tickSize": 5, "labelFontSize": 16, "labelPadding": 2, "domainColor": "#555", "tickColor": "#555"}}, "text": {"field": "s"}}}
     ]}
  ]}
]
}
